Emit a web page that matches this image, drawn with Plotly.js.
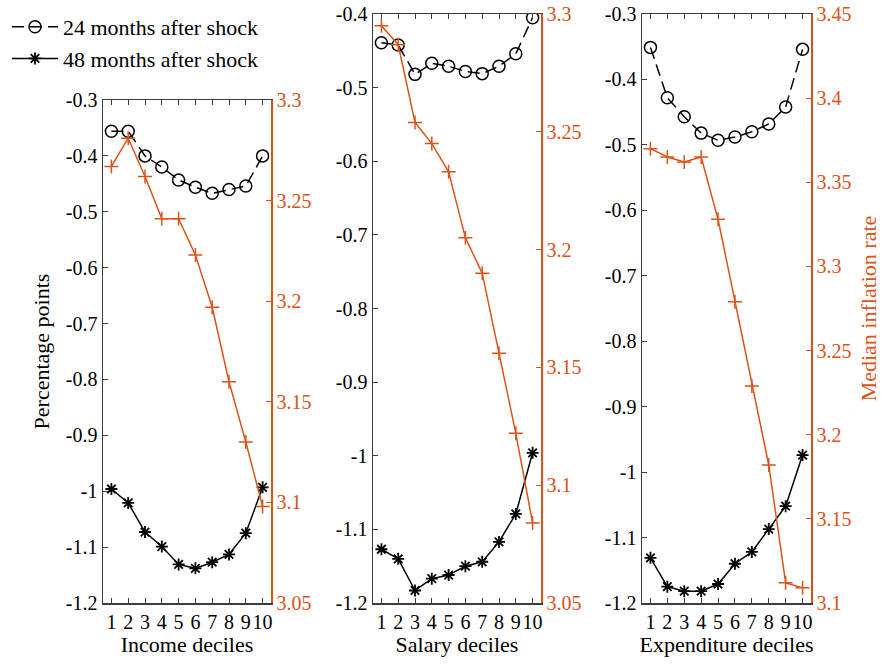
<!DOCTYPE html>
<html>
<head>
<meta charset="utf-8">
<script src="https://cdn.plot.ly/plotly-3.0.1.min.js"></script>
<style>
  html, body { margin: 0; padding: 0; background: #ffffff; }
  #chart { width: 888px; height: 668px; }
</style>
</head>
<body>
<div id="chart"></div>
<script>
// Deciles on the horizontal axis of every panel
const deciles = [1, 2, 3, 4, 5, 6, 7, 8, 9, 10];

// Income deciles
const income24 = [-0.356, -0.356, -0.400, -0.420, -0.443, -0.456, -0.467, -0.460, -0.454, -0.400];
const income48 = [-0.996, -1.021, -1.073, -1.099, -1.131, -1.138, -1.127, -1.113, -1.075, -0.993];
const incomeInflation = [3.267, 3.281, 3.262, 3.241, 3.241, 3.223, 3.197, 3.160, 3.130, 3.098];

// Salary deciles
const salary24 = [-0.439, -0.442, -0.482, -0.467, -0.471, -0.478, -0.481, -0.471, -0.454, -0.405];
const salary48 = [-1.127, -1.140, -1.183, -1.167, -1.162, -1.150, -1.144, -1.117, -1.079, -0.996];
const salaryInflation = [3.295, 3.287, 3.254, 3.245, 3.233, 3.205, 3.190, 3.156, 3.122, 3.084];

// Expenditure deciles
const expend24 = [-0.351, -0.428, -0.457, -0.482, -0.493, -0.488, -0.480, -0.468, -0.442, -0.354];
const expend48 = [-1.131, -1.175, -1.182, -1.182, -1.171, -1.140, -1.122, -1.087, -1.052, -0.974];
const expendInflation = [3.370, 3.365, 3.362, 3.365, 3.328, 3.279, 3.229, 3.182, 3.112, 3.109];

// Tick labels
const xTickLabels = ['1', '2', '3', '4', '5', '6', '7', '8', '9', '10'];
const leftTicksA = [-0.3, -0.4, -0.5, -0.6, -0.7, -0.8, -0.9, -1, -1.1, -1.2];
const leftTicksB = [-0.4, -0.5, -0.6, -0.7, -0.8, -0.9, -1, -1.1, -1.2];
const rightTicksA = [3.05, 3.1, 3.15, 3.2, 3.25, 3.3];
const rightTicksB = [3.1, 3.15, 3.2, 3.25, 3.3, 3.35, 3.4, 3.45];

const panelTitles = ['Income deciles', 'Salary deciles', 'Expenditure deciles'];
const seriesNames = ['24 months after shock', '48 months after shock'];

const W = 888, H = 668;
const FONT = "'Liberation Serif', 'Times New Roman', Times, serif";
const BLACK = '#000000';
const AXIS = '#3c3c3c';
const ORANGE = '#D95319';

const fmt = v => String(v);  // plain hyphen-minus, MATLAB style

// Panel boxes in pixels: [left, right, top, bottom]
const boxes = [
  [103, 271, 100, 603],
  [373, 541, 14, 603],
  [642, 811, 14, 603]
];
const leftRanges = [[-1.2, -0.3], [-1.2, -0.4], [-1.2, -0.3]];
const rightRanges = [[3.05, 3.3], [3.05, 3.3], [3.1, 3.45]];
const leftTicks = [leftTicksA, leftTicksB, leftTicksA];
const rightTicks = [rightTicksA, rightTicksA, rightTicksB];

const panels = [
  [income24, income48, incomeInflation],
  [salary24, salary48, salaryInflation],
  [expend24, expend48, expendInflation]
];

const traces = [];
const layout = {
  width: W, height: H,
  margin: {l: 0, r: 0, t: 0, b: 0},
  paper_bgcolor: '#ffffff',
  plot_bgcolor: 'rgba(0,0,0,0)',
  font: {family: FONT, size: 20, color: BLACK},
  showlegend: true,
  legend: {
    x: 7 / W, y: 1 - 6 / H, xanchor: 'left', yanchor: 'top',
    bgcolor: 'rgba(0,0,0,0)',
    font: {family: FONT, size: 22, color: BLACK},
    tracegroupgap: 0, itemwidth: 46
  }
};

panels.forEach((p, i) => {
  const n = i + 1;
  const xName = n === 1 ? 'x' : 'x' + n;
  const yL = 2 * i + 1, yR = 2 * i + 2;
  const yLName = yL === 1 ? 'y' : 'y' + yL;
  const yRName = 'y' + yR;
  const [l, r, t, b] = boxes[i];

  traces.push({
    x: deciles, y: p[0], xaxis: xName, yaxis: yLName,
    type: 'scatter', mode: 'lines+markers', name: seriesNames[0],
    legendgroup: 'g24', showlegend: i === 0,
    line: {color: BLACK, width: 1.5, dash: '12px,6px'},
    marker: {symbol: 'circle-open', size: 12, color: BLACK, line: {width: 1.5, color: BLACK}}
  });
  traces.push({
    x: deciles, y: p[1], xaxis: xName, yaxis: yLName,
    type: 'scatter', mode: 'lines+markers', name: seriesNames[1],
    legendgroup: 'g48', showlegend: i === 0,
    line: {color: BLACK, width: 1.5},
    marker: {symbol: 'asterisk-open', size: 10, color: BLACK, line: {width: 1.8, color: BLACK}}
  });
  traces.push({
    x: deciles, y: p[2], xaxis: xName, yaxis: yRName,
    type: 'scatter', mode: 'lines+markers', name: 'Median inflation rate',
    showlegend: false,
    line: {color: ORANGE, width: 1.5},
    marker: {symbol: 'cross-thin-open', size: 10, color: ORANGE, line: {width: 1.5, color: ORANGE}}
  });

  const xKey = n === 1 ? 'xaxis' : 'xaxis' + n;
  const yLKey = yL === 1 ? 'yaxis' : 'yaxis' + yL;
  const yRKey = 'yaxis' + yR;

  layout[xKey] = {
    domain: [l / W, r / W], anchor: yLName,
    range: [0.5, 10.5], tickvals: deciles, ticktext: xTickLabels, tickangle: 0,
    ticks: 'inside', ticklen: 5, tickwidth: 1, tickcolor: AXIS,
    showline: true, linecolor: AXIS, linewidth: 1.5, mirror: 'ticks',
    showgrid: false, zeroline: false, fixedrange: true,
    tickfont: {family: FONT, size: 20, color: BLACK},
    title: {text: panelTitles[i], font: {family: FONT, size: 22, color: BLACK}, standoff: 4}
  };
  layout[yLKey] = {
    domain: [(H - b) / H, (H - t) / H], anchor: xName,
    range: leftRanges[i], tickvals: leftTicks[i], ticktext: leftTicks[i].map(fmt),
    ticks: 'inside', ticklen: 5, tickwidth: 1, tickcolor: AXIS,
    showline: true, linecolor: AXIS, linewidth: 1.5,
    showgrid: false, zeroline: false, fixedrange: true,
    tickfont: {family: FONT, size: 20, color: BLACK}
  };
  layout[yRKey] = {
    domain: [(H - b) / H, (H - t) / H], anchor: xName,
    overlaying: yLName, side: 'right',
    range: rightRanges[i], tickvals: rightTicks[i], ticktext: rightTicks[i].map(fmt),
    ticks: 'inside', ticklen: 5, tickwidth: 1, tickcolor: ORANGE,
    showline: true, linecolor: ORANGE, linewidth: 1.5,
    showgrid: false, zeroline: false, fixedrange: true,
    tickfont: {family: FONT, size: 20, color: ORANGE}
  };
});

layout.yaxis.title = {text: 'Percentage points', font: {family: FONT, size: 22, color: BLACK}, standoff: 10};
layout.yaxis6.title = {text: 'Median inflation rate', font: {family: FONT, size: 22, color: ORANGE}, standoff: 10};

Plotly.newPlot('chart', traces, layout, {displayModeBar: false, staticPlot: true});
</script>
</body>
</html>
